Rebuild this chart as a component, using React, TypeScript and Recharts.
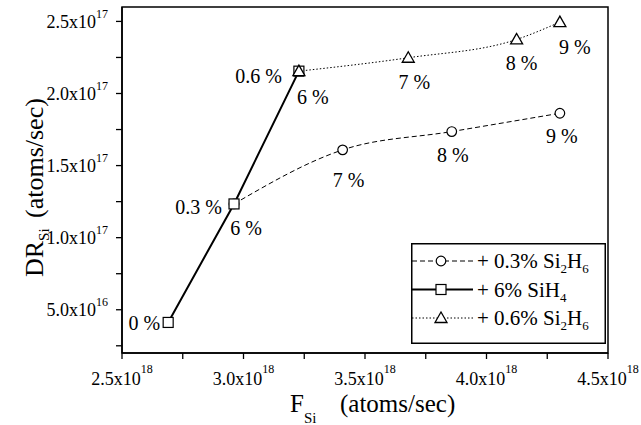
import React from 'react';
import { LineChart, Line, XAxis, YAxis, ReferenceArea, LabelList, Legend } from 'recharts';

// ---- data ----
const sih4X = [2.69e18, 2.961e18, 3.228e18];
const sih4Y = [4.12e16, 1.234e17, 2.155e17];
const sih4Labels = ['0 %', '0.3 %', '0.6 %'];

const lowX = [2.961e18, 3.408e18, 3.857e18, 4.302e18];
const lowY = [1.234e17, 1.609e17, 1.736e17, 1.863e17];
const lowLabels = ['6 %', '7 %', '8 %', '9 %'];

const highX = [3.228e18, 3.678e18, 4.124e18, 4.302e18];
const highY = [2.155e17, 2.248e17, 2.375e17, 2.495e17];
const highLabels = ['6 %', '7 %', '8 %', '9 %'];

const xTicks = [2.5e18, 2.75e18, 3.0e18, 3.25e18, 3.5e18, 3.75e18, 4.0e18, 4.25e18, 4.5e18];
const yTicks = [2.5e16, 5e16, 7.5e16, 1e17, 1.25e17, 1.5e17, 1.75e17, 2e17, 2.25e17, 2.5e17];
const xMajorStep = 5e17;
const yMajorStep = 5e16;

// ---- label placement (layout, not data) ----
const sih4LabelDx = [-8, -12, -17];
const sih4LabelDy = [1, 3, 5];
const lowLabelDx = [12, 6, 1, 2];
const lowLabelDy = [24, 30, 23, 23];
const highLabelDx = [14, 6, 5, 15];
const highLabelDy = [26, 24, 24, 25];

const FONT = 'Liberation Serif';
const fontStyle = { fontFamily: FONT };

const zip = (xs: number[], ys: number[], ls: string[]) =>
  xs.map((x, i) => ({ x, y: ys[i], label: ls[i] }));

const sih4Data = zip(sih4X, sih4Y, sih4Labels);
const lowData = zip(lowX, lowY, lowLabels);
const highData = zip(highX, highY, highLabels);

const isMajor = (v: number, step: number) => Math.abs(v / step - Math.round(v / step)) < 1e-6;

const sci = (v: number) => {
  const e = Math.floor(Math.log10(v) + 1e-9);
  const m = v / Math.pow(10, e);
  return { m: m.toFixed(1), e: String(e) };
};

const XTick = (props: any) => {
  const { x, y, payload } = props;
  if (!isMajor(payload.value, xMajorStep)) return <g />;
  const { m, e } = sci(payload.value);
  return (
    <text x={x} y={y + 24} textAnchor="middle" style={fontStyle} fontSize={18} fill="#000">
      {m}x10<tspan fontSize={12} dy={-12}>{e}</tspan>
    </text>
  );
};

const YTick = (props: any) => {
  const { x, y, payload } = props;
  if (!isMajor(payload.value, yMajorStep)) return <g />;
  const { m, e } = sci(payload.value);
  return (
    <text x={x - 6} y={y + 6.5} textAnchor="end" style={fontStyle} fontSize={18} fill="#000">
      {m}x10<tspan fontSize={12} dy={-10}>{e}</tspan>
    </text>
  );
};

const CircleDot = (p: any) => (
  <circle key={`c${p.index}`} cx={p.cx} cy={p.cy} r={4.8} fill="#fff" stroke="#000" strokeWidth={1.2} />
);
const SquareDot = (p: any) => (
  <rect key={`s${p.index}`} x={p.cx - 5} y={p.cy - 5} width={10} height={10} fill="#fff" stroke="#000" strokeWidth={1.2} />
);
const TriangleDot = (p: any) => (
  <polygon
    key={`t${p.index}`}
    points={`${p.cx},${p.cy - 6} ${p.cx - 6},${p.cy + 4.5} ${p.cx + 6},${p.cy + 4.5}`}
    fill="#fff"
    stroke="#000"
    strokeWidth={1.3}
  />
);

const makeLabel = (dxs: number[], dys: number[], anchor: 'start' | 'middle' | 'end') => (props: any) => {
  const { x, y, value, index } = props;
  return (
    <text
      x={x + dxs[index]}
      y={y + dys[index]}
      dy="0.35em"
      textAnchor={anchor}
      style={fontStyle}
      fontSize={20}
      fill="#000"
    >
      {value}
    </text>
  );
};

const XTitle = () => (
  <text x={290} y={412} style={fontStyle} fontSize={25} fill="#000">
    F<tspan fontSize={15} dy={11}>Si</tspan>
    <tspan x={340} dy={-11}>(atoms/sec)</tspan>
  </text>
);

const YTitle = () => (
  <text transform="rotate(-90)" x={-277} y={43} style={fontStyle} fontSize={26} fill="#000">
    DR<tspan fontSize={15} dy={6}>Si</tspan>
    <tspan x={-218} dy={-6}>(atoms/sec)</tspan>
  </text>
);

const legendRows = [
  { dash: '5 3', width: 1, marker: 'circle', text: ['+ 0.3% Si', '2', 'H', '6'] },
  { dash: undefined, width: 2, marker: 'square', text: ['+ 6% SiH', '4'] },
  { dash: '1.5 2', width: 1, marker: 'triangle', text: ['+ 0.6% Si', '2', 'H', '6'] },
];

const LegendBox = () => (
  <svg width={195} height={101} style={{ display: 'block' }}>
    <rect x={0.75} y={0.75} width={193.5} height={99.5} fill="#fff" stroke="#000" strokeWidth={1.5} />
    {legendRows.map((r, i) => {
      const cy = 18 + i * 28.5;
      const cx = 30;
      let marker;
      if (r.marker === 'circle') marker = CircleDot({ cx, cy, index: 0 });
      else if (r.marker === 'square') marker = SquareDot({ cx, cy, index: 0 });
      else marker = TriangleDot({ cx, cy, index: 0 });
      return (
        <g key={i}>
          <line x1={1} x2={62} y1={cy} y2={cy} stroke="#000" strokeWidth={r.width} strokeDasharray={r.dash} />
          {marker}
          <text x={66} y={cy + 7} style={fontStyle} fontSize={21} fill="#000">
            {r.text[0]}
            <tspan fontSize={13} dy={5}>{r.text[1]}</tspan>
            {r.text.length > 2 && <tspan dy={-5}>{r.text[2]}</tspan>}
            {r.text.length > 3 && <tspan fontSize={13} dy={5}>{r.text[3]}</tspan>}
          </text>
        </g>
      );
    })}
  </svg>
);

export default function App() {
  return (
    <div style={{ position: 'absolute', left: 0, top: 0, background: '#fff' }}>
      <LineChart width={641} height={425} margin={{ top: 7, right: 33, bottom: 0, left: 0 }}>
        <XAxis
          type="number"
          dataKey="x"
          domain={[2.5e18, 4.5e18]}
          ticks={xTicks}
          interval={0}
          allowDataOverflow
          height={72}
          tickSize={6}
          tick={XTick}
          tickLine={{ stroke: '#000', strokeWidth: 1.3 }}
          axisLine={{ stroke: '#000', strokeWidth: 1.5 }}
          label={<XTitle />}
        />
        <YAxis
          type="number"
          dataKey="y"
          domain={[2e16, 2.6e17]}
          ticks={yTicks}
          interval={0}
          allowDataOverflow
          width={122}
          tickSize={6}
          tick={YTick}
          tickLine={{ stroke: '#000', strokeWidth: 1.3 }}
          axisLine={{ stroke: '#000', strokeWidth: 1.5 }}
          label={<YTitle />}
        />
        <ReferenceArea x1={2.5e18} x2={4.5e18} y1={2e16} y2={2.6e17} fill="none" stroke="#000" strokeWidth={1.5} />
        <Line
          data={lowData}
          dataKey="y"
          type="monotone"
          stroke="#000"
          strokeWidth={1}
          strokeDasharray="5 3"
          dot={CircleDot}
          isAnimationActive={false}
        >
          <LabelList dataKey="label" content={makeLabel(lowLabelDx, lowLabelDy, 'middle')} />
        </Line>
        <Line
          data={sih4Data}
          dataKey="y"
          type="linear"
          stroke="#000"
          strokeWidth={2}
          dot={SquareDot}
          isAnimationActive={false}
        >
          <LabelList dataKey="label" content={makeLabel(sih4LabelDx, sih4LabelDy, 'end')} />
        </Line>
        <Line
          data={highData}
          dataKey="y"
          type="monotone"
          stroke="#000"
          strokeWidth={1}
          strokeDasharray="1.5 2"
          dot={TriangleDot}
          isAnimationActive={false}
        >
          <LabelList dataKey="label" content={makeLabel(highLabelDx, highLabelDy, 'middle')} />
        </Line>
        <Legend
          layout="horizontal"
          verticalAlign="middle"
          align="center"
          content={<LegendBox />}
          wrapperStyle={{ position: 'absolute', left: 411, top: 243, width: 195, height: 101, margin: 0 }}
        />
      </LineChart>
    </div>
  );
}
